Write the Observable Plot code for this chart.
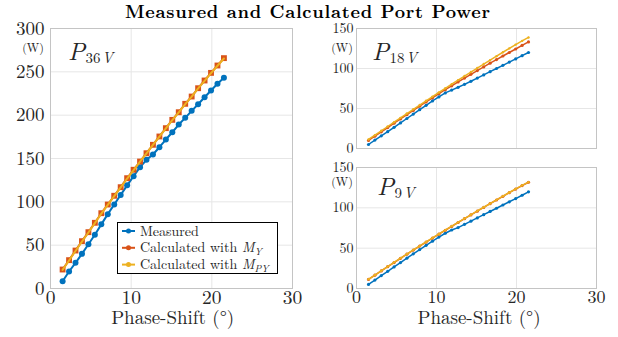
<!DOCTYPE html>
<html>
<head>
<meta charset="utf-8">
<script src="https://cdn.jsdelivr.net/npm/d3@7"></script>
<script src="https://cdn.jsdelivr.net/npm/@observablehq/plot@0.6"></script>
<style>
  html, body { margin: 0; padding: 0; background: white; }
  #wrap { position: relative; width: 618px; height: 337px; overflow: hidden; }
  #wrap > svg, #wrap > figure { position: absolute; left: 0; top: 0; margin: 0; }
  #wrap svg text { font-family: "Latin Modern Roman", "CMU Serif", "Liberation Serif", serif; }
</style>
</head>
<body>
<div id="wrap"></div>
<script>
// ---------------- data ----------------
const phaseShift = [1.5, 2.3, 3.1, 3.9, 4.7, 5.5, 6.3, 7.1, 7.9, 8.7, 9.5, 10.3, 11.1, 11.9, 12.7, 13.5, 14.3, 15.1, 15.9, 16.7, 17.5, 18.3, 19.1, 19.9, 20.7, 21.5];

const p36Measured = [8.4, 19.6, 29.6, 40, 51, 62, 74, 85.8, 97, 108, 119, 129.6, 140, 148.5, 154.6, 163, 171.9, 180.3, 189.2, 196.9, 205, 212.6, 220.7, 228.5, 236.2, 243.1];
const p36CalcMY   = [21.9, 32.7, 43.8, 54.6, 65, 75.8, 86.9, 96.9, 107, 116.9, 127.3, 137, 146.5, 156.1, 165.8, 175.4, 185, 194.6, 203.4, 213.1, 221.5, 231.1, 240, 248.8, 257.3, 265.8];
const p36CalcMPY  = [21.5, 32.3, 43.3, 54.1, 64.6, 75.4, 86.4, 96.5, 106.6, 116.6, 126.9, 136.7, 146.3, 155.9, 165.6, 175.2, 184.8, 194.3, 203.2, 212.8, 221.3, 230.8, 239.6, 248.5, 257, 265.4];

const p18Measured = [5, 10.5, 15.8, 21, 26.5, 32, 37.5, 43, 48.5, 54, 59.5, 64.5, 69.5, 73, 76.5, 80.2, 84, 88, 92, 96, 100, 104, 108, 112, 116, 120];
const p18CalcMY   = [10, 15.4, 20.8, 26.2, 31.6, 37, 42.3, 47.6, 52.9, 58.2, 63.4, 68.5, 73.5, 78.4, 83.2, 88, 92.7, 97.4, 102, 106.6, 111.1, 115.6, 120, 124.4, 128.8, 133.2];
const p18CalcMPY  = [11.3, 16.7, 22.1, 27.5, 32.9, 38.3, 43.7, 49, 54.3, 59.6, 64.9, 70.1, 75.3, 80.4, 85.5, 90.6, 95.6, 100.6, 105.6, 110.5, 115.4, 120.3, 125.1, 129.9, 134.5, 138.8];

const p9Measured = [5, 10.5, 16, 21.3, 26.8, 32.2, 37.6, 43, 48.3, 53.5, 58.7, 63.8, 68.5, 72.5, 75.5, 79.5, 83.5, 87.5, 91.5, 95.5, 99.5, 103.5, 107.5, 111.5, 115.6, 119.8];
const p9CalcMY   = [11.2, 16.5, 21.8, 27, 32.2, 37.4, 42.5, 47.6, 52.6, 57.6, 62.5, 67.4, 72.2, 77, 81.8, 86.5, 91.2, 95.9, 100.5, 105.1, 109.7, 114.3, 118.8, 123.3, 127.6, 131.7];
const p9CalcMPY  = [11.4, 16.7, 22, 27.2, 32.4, 37.6, 42.7, 47.8, 52.8, 57.8, 62.7, 67.6, 72.4, 77.2, 82, 86.7, 91.4, 96.1, 100.7, 105.3, 109.9, 114.5, 119, 123.5, 127.8, 131.9];

const seriesNames = ["Measured", "Calculated with M_Y", "Calculated with M_PY"];
const seriesColors = ["#0072BD", "#D95319", "#EDB120"];

const xTicks = [0, 10, 20, 30];
const yTicksLeft = [0, 50, 100, 150, 200, 250, 300];
const yTicksRight = [0, 50, 100, 150];

// ---------------- helpers ----------------
function table(arrays) {
  const rows = [];
  arrays.forEach((arr, s) => arr.forEach((v, i) => rows.push({x: phaseShift[i], y: v, s})));
  return rows;
}

function panel(opts) {
  const data = table(opts.series);
  const marks = [
    Plot.gridX({ticks: xTicks, stroke: "#e6e6e6", strokeOpacity: 1}),
    Plot.gridY({ticks: opts.yTicks, stroke: "#e6e6e6", strokeOpacity: 1}),
    Plot.frame({stroke: "#c4c4c4"}),
    Plot.axisY({ticks: opts.yTicks, tickSize: 0, tickPadding: opts.yPad, fontSize: opts.yFont, label: null})
  ];
  if (opts.showX) marks.push(Plot.axisX({ticks: xTicks, tickSize: 0, tickPadding: 2, fontSize: opts.xFont, label: null}));
  for (let s = 0; s < 3; s++) {
    const d = data.filter(r => r.s === s);
    marks.push(Plot.line(d, {x: "x", y: "y", stroke: seriesColors[s], strokeWidth: opts.lw}));
    const ds = opts.dots[s];
    if (ds) marks.push(Plot.dot(d, {x: "x", y: "y", fill: seriesColors[s], r: ds.r, symbol: ds.symbol}));
  }
  return Plot.plot({
    width: 618, height: 337,
    marginLeft: opts.ml, marginRight: opts.mr, marginTop: opts.mt, marginBottom: opts.mb,
    style: {background: "transparent", fontFamily: "Latin Modern Roman", color: "#262626"},
    x: {domain: [0, 30], axis: null},
    y: {domain: [0, opts.yMax], axis: null},
    marks
  });
}

const wrap = document.getElementById("wrap");

wrap.appendChild(panel({
  series: [p36Measured, p36CalcMY, p36CalcMPY],
  yMax: 300, yTicks: yTicksLeft, ml: 50, mr: 326, mt: 28, mb: 49,
  showX: true, xFont: 19.5, yFont: 19, yPad: 6, lw: 2,
  dots: [{r: 3, symbol: "circle"}, {r: 3.3, symbol: "square"}, null]
}));

wrap.appendChild(panel({
  series: [p18Measured, p18CalcMY, p18CalcMPY],
  yMax: 150, yTicks: yTicksRight, ml: 356, mr: 22, mt: 28, mb: 189,
  showX: false, xFont: 18, yFont: 14, yPad: 3, lw: 1.5,
  dots: [{r: 1.6, symbol: "circle"}, {r: 1.6, symbol: "circle"}, {r: 1.2, symbol: "circle"}]
}));

wrap.appendChild(panel({
  series: [p9Measured, p9CalcMY, p9CalcMPY],
  yMax: 150, yTicks: yTicksRight, ml: 356, mr: 22, mt: 167, mb: 49,
  showX: true, xFont: 18, yFont: 14, yPad: 3, lw: 1.5,
  dots: [{r: 1.6, symbol: "circle"}, {r: 1.6, symbol: "circle"}, {r: 1.2, symbol: "circle"}]
}));

// ---------------- text overlay: title, labels, legend ----------------
const ov = d3.select(wrap).append("svg")
  .attr("width", 618).attr("height", 337)
  .style("fill", "#262626");

ov.append("text").attr("x", 307.5).attr("y", 18.3).attr("text-anchor", "middle")
  .attr("textLength", 365).attr("lengthAdjust", "spacing")
  .style("font-weight", "bold").style("font-size", "18px").style("fill", "#000")
  .text("Measured and Calculated Port Power");

[[33, 52], [342, 52], [342, 185.5]].forEach(([x, y]) =>
  ov.append("text").attr("x", x).attr("y", y).attr("text-anchor", "middle").style("font-size", "12px").text("(W)"));

[[172.7, 324], [479, 324]].forEach(([x, y]) =>
  ov.append("text").attr("x", x).attr("y", y).attr("text-anchor", "middle").style("font-size", "19px").text("Phase-Shift (°)"));

function pLabel(x, y, sub) {
  const t = ov.append("text").attr("x", x).attr("y", y).style("font-size", "25px");
  t.append("tspan").style("font-style", "italic").text("P");
  t.append("tspan").attr("dy", 3).attr("dx", 0.5).style("font-size", "15px").text(sub);
  t.append("tspan").attr("dx", 1.5).style("font-size", "15px").style("font-style", "italic").text("V");
}
pLabel(68, 60, "36");
pLabel(372, 60, "18");
pLabel(377, 195, "9");

// legend
const lg = ov.append("g");
lg.append("rect").attr("x", 117.5).attr("y", 222.5).attr("width", 160).attr("height", 51)
  .attr("fill", "white").attr("stroke", "black").attr("stroke-width", 1);
const legendRows = [[seriesNames[0], null], ["Calculated with ", "Y"], ["Calculated with ", "PY"]];
legendRows.forEach(([label, sub], i) => {
  const cy = 231 + i * 16.8;
  lg.append("line").attr("x1", 122).attr("x2", 135).attr("y1", cy).attr("y2", cy)
    .attr("stroke", seriesColors[i]).attr("stroke-width", 2);
  lg.append("circle").attr("cx", 128.5).attr("cy", cy).attr("r", 2.5).attr("fill", seriesColors[i]);
  const t = lg.append("text").attr("x", 140).attr("y", cy + 4.5).style("font-size", "14px");
  t.append("tspan").text(label);
  if (sub) {
    t.append("tspan").style("font-style", "italic").text("M");
    t.append("tspan").attr("dy", 2.5).style("font-size", "10px").style("font-style", "italic").text(sub);
  }
});
</script>
</body>
</html>
